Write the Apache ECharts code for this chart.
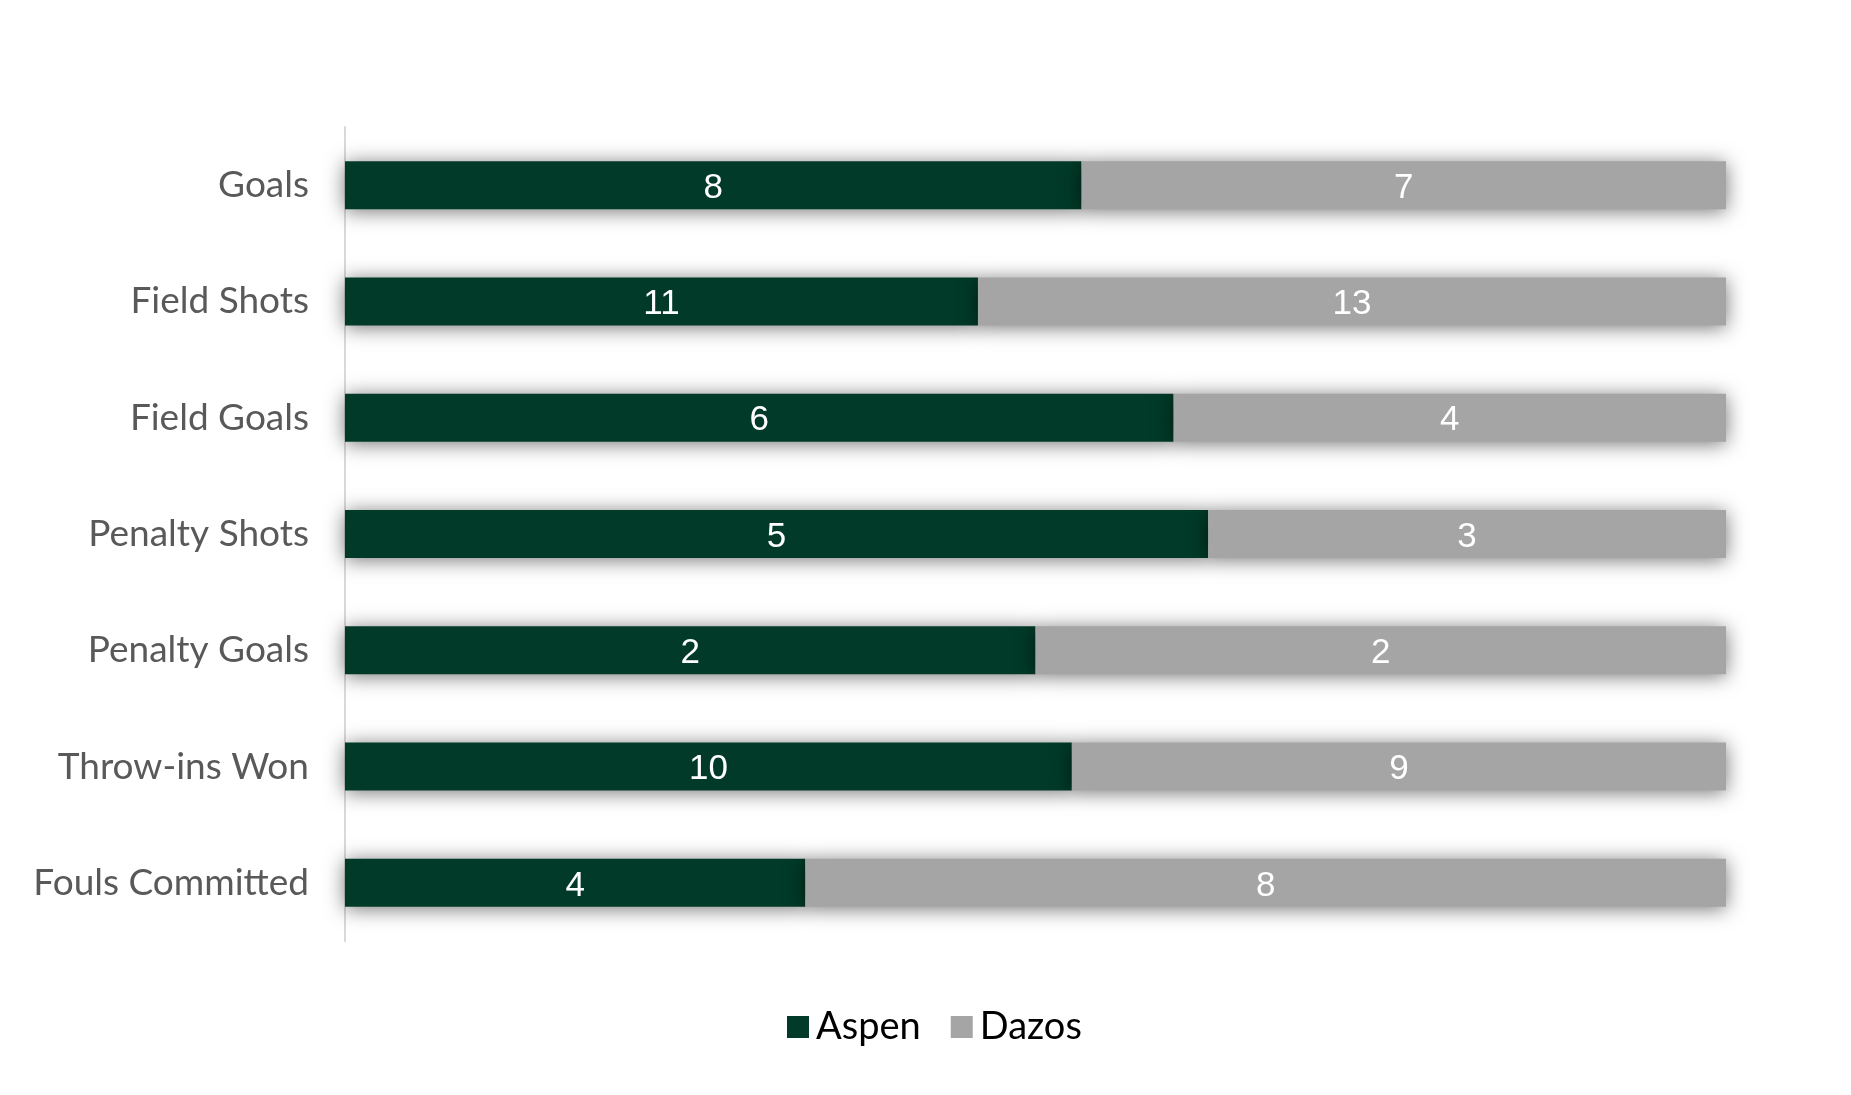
<!DOCTYPE html>
<html lang="en">
<head>
    <meta charset="UTF-8">
    <title>Aspen vs Dazos</title>
    <script src="https://cdn.jsdelivr.net/npm/echarts@6/dist/echarts.min.js"></script>
</head>
<style>
    *{
        margin: 0;
        padding: 0;
    }
    html , body{
        overflow: hidden;
        height: 100%;
        width: 100%;
        background: #fff;
    }
    .contain{
        height: 1095px;
        width: 1851px;
    }
</style>
<body>
<div class="contain"></div>
<script>
    // match stats, one entry per category
    const categories = ['Goals', 'Field Shots', 'Field Goals', 'Penalty Shots', 'Penalty Goals', 'Throw-ins Won', 'Fouls Committed'];
    const aspen = [8, 11, 6, 5, 2, 10, 4];
    const dazos = [7, 13, 4, 3, 2, 9, 8];

    let chart = echarts.init(document.querySelector('.contain'));

    // 100% stacked: bar length is the share, label is the raw count
    function share(vals, other) {
        return vals.map((v, i) => ({value: v / (v + other[i]), raw: v}));
    }

    let barShadow = {
        shadowBlur: 20,
        shadowColor: 'rgba(0,0,0,0.55)',
        shadowOffsetY: 2
    };

    let labelStyle = {
        show: true,
        position: 'inside',
        offset: [0, 3],
        color: '#fff',
        fontSize: 35,
        fontFamily: 'Liberation Sans, Arial, sans-serif',
        formatter: p => p.data.raw
    };

    let option = {
        animation: false,
        grid: {
            left: 345,
            right: 125,
            top: 127,
            height: 814
        },
        xAxis: {
            type: 'value',
            min: 0,
            max: 1,
            show: false
        },
        yAxis: {
            type: 'category',
            data: categories,
            inverse: true,
            axisLine: {
                lineStyle: {color: '#d9d9d9', width: 2}
            },
            axisTick: {show: false},
            axisLabel: {
                margin: 36,
                fontSize: 37,
                color: '#595959',
                fontFamily: 'Lato, sans-serif'
            }
        },
        legend: {
            left: 782,
            top: 1003,
            icon: 'rect',
            itemWidth: 22,
            itemHeight: 22,
            itemGap: 30,
            textStyle: {
                fontSize: 38,
                color: '#000',
                fontFamily: 'Lato, sans-serif',
                padding: [0, 0, 0, 2]
            },
            data: ['Aspen', 'Dazos']
        },
        series: [
            {
                name: 'Aspen',
                type: 'bar',
                stack: 'total',
                barWidth: 48,
                data: share(aspen, dazos),
                itemStyle: Object.assign({color: '#013a28'}, barShadow),
                label: labelStyle
            },
            {
                name: 'Dazos',
                type: 'bar',
                stack: 'total',
                barWidth: 48,
                data: share(dazos, aspen),
                itemStyle: Object.assign({color: '#a5a5a5'}, barShadow),
                label: labelStyle
            }
        ]
    };

    chart.setOption(option);
</script>
</body>
</html>
